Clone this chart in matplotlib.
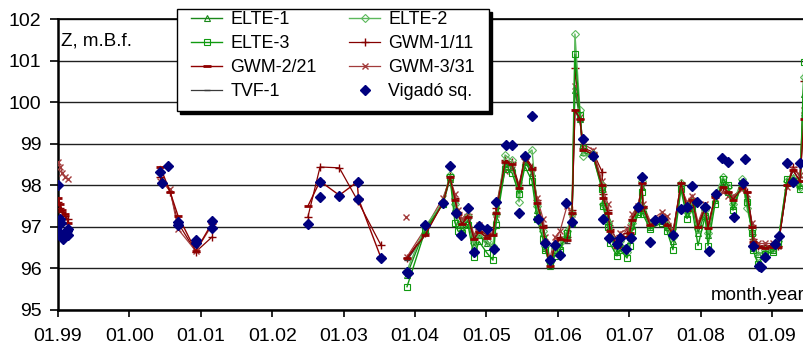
import matplotlib
matplotlib.use("Agg")
import matplotlib.pyplot as plt
import numpy as np
from matplotlib.patches import Rectangle

plt.rcParams["font.family"] = ["Liberation Sans", "DejaVu Sans"]

# ---- data (decimal years / water level, m.B.f.) ----
year_ticks = [1999, 2000, 2001, 2002, 2003, 2004, 2005, 2006, 2007, 2008, 2009]
year_labels = ["01.99", "01.00", "01.01", "01.02", "01.03", "01.04",
               "01.05", "01.06", "01.07", "01.08", "01.09"]

# early GWM campaigns
dates_99 = [1999.00, 1999.03, 1999.06, 1999.10, 1999.14]
gwm1_99 = [97.60, 97.45, 97.35, 97.25, 97.20]
gwm2_99 = [97.70, 97.55, 97.40, 97.30, 97.10]
gwm3_99 = [98.55, 98.45, 98.30, 98.20, 98.15]

dates_00 = [2000.43, 2000.57, 2000.68, 2000.93, 2001.16]
gwm1_00 = [98.20, 97.85, 97.10, 96.40, 96.76]
gwm2_00 = [98.45, 97.84, 97.27, 96.42, 97.10]
gwm3_00 = [98.10, 97.90, 96.95, 96.42, 97.05]

dates_02 = [2002.50, 2002.67, 2002.94, 2003.20, 2003.52]
gwm1_02 = [97.24, 98.44, 98.42, 97.62, 96.57]
dates_02b = [2002.50, 2002.67, 2002.94, 2003.19, 2003.21, 2003.52]
gwm2_02 = [97.50, 98.10, 97.76, 98.08, 97.67, 96.27]
dates_03 = [2003.87]
gwm3_03 = [97.24]

# dense monitoring period 2004-2009
dates = [2003.888, 2004.140, 2004.392, 2004.490, 2004.560, 2004.602, 2004.658, 2004.742, 2004.826, 2004.896,
         2005.008, 2005.092, 2005.134, 2005.261, 2005.359, 2005.457, 2005.541, 2005.639, 2005.709, 2005.793,
         2005.821, 2005.891, 2005.961, 2006.031, 2006.129, 2006.199, 2006.240, 2006.311, 2006.353, 2006.493,
         2006.619, 2006.633, 2006.703, 2006.731, 2006.829, 2006.871, 2006.970, 2007.011, 2007.039, 2007.123,
         2007.179, 2007.193, 2007.291, 2007.459, 2007.529, 2007.613, 2007.725, 2007.810, 2007.880, 2007.964,
         2008.062, 2008.104, 2008.202, 2008.314, 2008.384, 2008.454, 2008.580, 2008.650, 2008.720, 2008.734,
         2008.804, 2008.902, 2009.014, 2009.084, 2009.210, 2009.294, 2009.392, 2009.448, 2009.504]

elte1 = [95.85, 96.95, 97.55, 98.15, 97.45, 97.10, 96.95, 97.15, 96.55, 96.80,
         96.60, 96.50, 97.20, 98.50, 98.45, 97.90, 98.55, 98.30, 97.40, 96.85,
         96.50, 96.05, 96.40, 96.55, 96.80, 97.20, 100.30, 99.60, 98.80, 98.70,
         97.95, 97.60, 97.20, 96.80, 96.40, 96.60, 96.50, 96.75, 97.05, 97.35,
         97.95, 97.40, 97.00, 97.15, 97.00, 96.65, 98.00, 97.30, 97.55, 96.85,
         97.35, 96.80, 97.65, 98.00, 97.85, 97.50, 98.00, 97.70, 96.90, 96.50,
         96.35, 96.40, 96.45, 96.60, 98.05, 98.20, 98.00, 100.20, 101.00]

elte2 = [95.95, 97.00, 97.60, 98.25, 97.55, 97.15, 97.00, 97.25, 96.60, 96.85,
         96.65, 96.55, 97.30, 98.73, 98.60, 97.60, 98.70, 98.85, 97.50, 96.90,
         96.55, 96.15, 96.50, 96.60, 96.90, 97.30, 101.64, 99.80, 98.70, 98.75,
         98.00, 97.55, 97.10, 96.75, 96.45, 96.65, 96.40, 96.80, 97.10, 97.40,
         98.10, 97.45, 97.05, 97.20, 97.05, 96.75, 98.05, 97.35, 97.60, 96.95,
         97.40, 96.85, 97.75, 98.20, 97.95, 97.55, 98.15, 97.45, 96.95, 96.55,
         96.30, 96.45, 96.50, 96.65, 98.10, 98.15, 97.95, 100.60, 101.20]

elte3 = [95.56, 96.90, 97.55, 98.20, 97.10, 96.90, 96.85, 97.05, 96.28, 96.65,
         96.37, 96.20, 97.05, 98.40, 98.30, 97.80, 98.45, 98.10, 97.20, 96.70,
         96.45, 96.10, 96.30, 96.45, 96.85, 97.10, 101.15, 99.70, 98.90, 98.70,
         97.90, 97.50, 97.00, 96.60, 96.30, 96.45, 96.25, 96.55, 96.90, 97.30,
         97.85, 97.30, 96.95, 97.10, 96.90, 96.45, 97.90, 97.20, 97.45, 96.55,
         97.25, 96.55, 97.55, 98.15, 98.00, 97.40, 98.05, 97.60, 96.85, 96.45,
         96.10, 96.35, 96.40, 96.60, 98.15, 98.10, 97.90, 100.97, 101.10]

gwm1 = [96.25, 96.85, 97.62, 98.22, 97.70, 97.35, 97.10, 97.30, 96.75, 96.95,
        96.80, 96.85, 97.45, 98.60, 98.55, 98.00, 98.70, 98.45, 97.65, 97.05,
        96.65, 96.15, 96.60, 96.75, 96.75, 97.40, 100.82, 99.60, 98.90, 98.80,
        98.33, 97.80, 97.40, 96.95, 96.70, 96.80, 96.85, 96.95, 97.20, 97.45,
        98.05, 97.50, 97.10, 97.25, 97.10, 96.85, 98.05, 97.50, 97.70, 97.05,
        97.50, 97.00, 97.75, 97.95, 97.85, 97.70, 97.95, 97.85, 97.05, 96.70,
        96.55, 96.55, 96.55, 96.55, 98.00, 98.45, 98.20, 100.50, 101.00]

gwm2 = [96.25, 96.80, 97.58, 98.20, 97.65, 97.30, 97.07, 97.24, 96.70, 96.88,
        96.74, 96.80, 97.34, 98.56, 98.50, 97.94, 98.66, 98.40, 97.57, 97.00,
        96.61, 96.05, 96.57, 96.70, 96.69, 97.34, 99.81, 99.60, 98.85, 98.75,
        98.00, 97.70, 97.34, 96.90, 96.52, 96.74, 96.76, 96.86, 97.17, 97.41,
        98.06, 97.48, 97.05, 97.19, 97.05, 96.81, 98.06, 97.41, 97.65, 97.00,
        97.45, 96.97, 97.72, 97.96, 97.84, 97.65, 97.94, 97.84, 97.00, 96.64,
        96.52, 96.50, 96.52, 96.52, 98.00, 98.37, 98.10, 99.60, 100.80]

gwm3 = [96.28, 96.95, 97.70, 98.15, 97.80, 97.40, 97.20, 97.35, 96.80, 97.05,
        96.95, 96.90, 97.30, 98.35, 98.40, 98.00, 98.60, 98.30, 97.70, 97.20,
        96.75, 96.25, 96.75, 96.90, 97.50, 97.30, 100.40, 99.65, 99.00, 98.85,
        98.10, 97.90, 97.55, 97.10, 96.60, 96.85, 96.95, 97.00, 97.30, 97.50,
        97.95, 97.55, 97.15, 97.35, 97.25, 96.90, 97.95, 97.60, 97.75, 97.10,
        97.55, 97.05, 97.70, 97.85, 97.75, 97.75, 97.90, 97.80, 97.10, 96.75,
        96.60, 96.60, 96.60, 96.55, 97.95, 98.40, 98.25, 99.80, 100.90]

tvf1 = [96.20, 96.80, 97.60, 98.20, 97.60, 97.30, 97.10, 97.20, 96.70, 96.90,
        96.75, 96.80, 97.30, 98.50, 98.50, 97.95, 98.60, 98.40, 97.60, 97.00,
        96.60, 96.10, 96.55, 96.70, 96.60, 97.30, 99.80, 99.55, 98.85, 98.75,
        98.00, 97.70, 97.35, 96.90, 96.50, 96.75, 96.75, 96.85, 97.15, 97.40,
        98.00, 97.45, 97.05, 97.20, 97.05, 96.80, 98.00, 97.40, 97.60, 97.00,
        97.45, 96.95, 97.70, 97.95, 97.85, 97.65, 97.95, 97.85, 97.00, 96.65,
        96.50, 96.50, 96.50, 96.50, 98.00, 98.35, 98.10, 99.70, 100.80]

# Vigado square well
vig_dates = [1999.000, 1999.000, 1999.014, 1999.028, 1999.042, 1999.056, 1999.070, 1999.084, 1999.098,
             1999.126, 1999.140, 1999.140,
             2000.429, 2000.541, 2000.457, 2000.681, 2000.681, 2000.933, 2000.933, 2001.157, 2001.157,
             2002.501, 2002.669, 2002.669, 2002.936, 2003.202, 2003.202, 2003.524, 2003.888, 2003.902,
             2004.140, 2004.392, 2004.490, 2004.574, 2004.644, 2004.742, 2004.826, 2004.896, 2005.008,
             2005.106, 2005.134, 2005.275, 2005.359, 2005.457, 2005.541, 2005.639, 2005.723, 2005.821,
             2005.891, 2005.961, 2006.031, 2006.115, 2006.199, 2006.353, 2006.493, 2006.633, 2006.717,
             2006.829, 2006.871, 2006.955, 2007.025, 2007.123, 2007.179, 2007.291, 2007.361, 2007.459,
             2007.613, 2007.725, 2007.810, 2007.880, 2007.950, 2008.062, 2008.118, 2008.216, 2008.300,
             2008.384, 2008.468, 2008.594, 2008.622, 2008.734, 2008.818, 2008.846, 2008.902, 2009.042,
             2009.098, 2009.210, 2009.294, 2009.392]
vig_values = [98.00, 96.90, 96.85, 97.20, 97.10, 96.75, 96.70, 96.80, 96.85,
              96.90, 96.95, 96.80,
              98.32, 98.47, 98.06, 97.12, 97.05, 96.68, 96.62, 97.14, 96.97,
              97.07, 98.08, 97.72, 97.75, 98.08, 97.67, 96.25, 95.92, 95.88,
              97.05, 97.58, 98.47, 97.34, 96.81, 97.45, 96.40, 97.02, 96.95,
              96.47, 97.60, 98.97, 98.97, 97.34, 98.70, 99.67, 97.19, 96.60,
              96.20, 96.57, 96.33, 97.58, 97.12, 99.12, 98.70, 97.20, 96.74,
              96.59, 96.74, 96.47, 96.74, 97.48, 98.20, 96.64, 97.17, 97.19,
              96.81, 97.43, 97.48, 97.98, 97.60, 97.48, 96.42, 97.79, 98.66,
              98.56, 97.24, 98.06, 98.64, 96.55, 96.06, 96.04, 96.28, 96.59,
              96.78, 98.54, 98.08, 98.54]

# ---- figure ----
W, H = 804, 351
fig = plt.figure(figsize=(W / 100, H / 100), dpi=100)
x0, x1 = 58, 58 + 11 * 71.4
y_top, y_bot = 19, 310
ax = fig.add_axes([x0 / W, 1 - y_bot / H, (x1 - x0) / W, (y_bot - y_top) / H])

c_e1, c_e2, c_e3 = "#1a881a", "#5cb85c", "#109a10"
c_g1, c_g2, c_g3 = "#850000", "#900000", "#a23b3b"
c_tvf, c_vig = "#3a3a3a", "#00007f"

s_e1 = dict(color=c_e1, lw=1.0, marker="^", ms=5, mfc="none", mew=0.8)
s_e2 = dict(color=c_e2, lw=1.0, marker="D", ms=4.5, mfc="none", mew=0.8)
s_e3 = dict(color=c_e3, lw=1.0, marker="s", ms=5, mfc="none", mew=0.8)
s_g1 = dict(color=c_g1, lw=0.9, marker="+", ms=6, mew=1.0)
s_g2 = dict(color=c_g2, lw=1.0, marker="_", ms=6, mew=2.0)
s_g3 = dict(color=c_g3, lw=0.9, marker="x", ms=4.5, mew=1.0)
s_tvf = dict(color=c_tvf, lw=0.9, marker="_", ms=4, mew=1.0)

h_g1, = ax.plot(dates, gwm1, label="GWM-1/11", zorder=3, **s_g1)
ax.plot(dates_99, gwm1_99, zorder=3, **s_g1)
ax.plot(dates_00, gwm1_00, zorder=3, **s_g1)
ax.plot(dates_02, gwm1_02, zorder=3, **s_g1)

h_g3, = ax.plot(dates, gwm3, label="GWM-3/31", zorder=3, **s_g3)
ax.plot(dates_99, gwm3_99, zorder=3, **s_g3)
ax.plot(dates_00, gwm3_00, zorder=3, **s_g3)
ax.plot(dates_03, gwm3_03, zorder=3, **s_g3)

h_tvf, = ax.plot(dates, tvf1, label="TVF-1", zorder=3, **s_tvf)

h_e1, = ax.plot(dates, elte1, label="ELTE-1", zorder=4, **s_e1)
h_e2, = ax.plot(dates, elte2, label="ELTE-2", zorder=4, **s_e2)
h_e3, = ax.plot(dates, elte3, label="ELTE-3", zorder=4, **s_e3)

h_g2, = ax.plot(dates, gwm2, label="GWM-2/21", zorder=5, **s_g2)
ax.plot(dates_99, gwm2_99, zorder=5, **s_g2)
ax.plot(dates_00, gwm2_00, zorder=5, **s_g2)
ax.plot(dates_02b, gwm2_02, zorder=5, **s_g2)

h_vig, = ax.plot(vig_dates, vig_values, ls="none", marker="D", ms=5,
                 color=c_vig, label="Vigadó sq.", zorder=6)

ax.set_xlim(1999, 2010)
ax.set_ylim(95, 102)
ax.set_xticks(year_ticks)
ax.set_xticklabels(year_labels)
ax.set_yticks(range(95, 103))
ax.tick_params(axis="x", direction="out", length=5, width=1.2, pad=8, labelsize=14)
ax.tick_params(axis="y", direction="out", length=6, width=1.2, pad=6, labelsize=14)
ax.yaxis.grid(True, color="#202020", lw=1.0)
ax.set_axisbelow(True)
for side in ("top", "right"):
    ax.spines[side].set_visible(False)
ax.spines["left"].set_linewidth(1.8)
ax.spines["bottom"].set_linewidth(1.8)
ax.axhline(102, color="black", lw=1.2, clip_on=False, zorder=1)

fig.text(61 / W, 1 - 41 / H, "Z, m.B.f.", fontsize=13.5, va="center", ha="left")
fig.text(711 / W, 1 - 296 / H, "month.year", fontsize=13.5, va="center", ha="left")

# legend box with hard black shadow
lx, ly, lw_, lh = 177, 9, 312, 102
fig.patches.append(Rectangle(((lx + 3) / W, 1 - (ly + lh + 3) / H), lw_ / W, lh / H,
                             transform=fig.transFigure, fc="black", ec="black", zorder=3))
fig.patches.append(Rectangle((lx / W, 1 - (ly + lh) / H), lw_ / W, lh / H,
                             transform=fig.transFigure, fc="white", ec="black", lw=1.0, zorder=4))

handles = [h_e1, h_e3, h_g2, h_tvf, h_e2, h_g1, h_g3, h_vig]
fig.legend(handles=handles, labels=[h.get_label() for h in handles],
           loc="upper left", bbox_to_anchor=(191 / W, 1 - 11 / H),
           bbox_transform=fig.transFigure, ncol=2, frameon=False,
           fontsize=12.9, numpoints=1, handlelength=1.75, handletextpad=0.45,
           columnspacing=1.8, labelspacing=0.4, borderpad=0, borderaxespad=0)

fig.savefig("out.png", dpi=100)
